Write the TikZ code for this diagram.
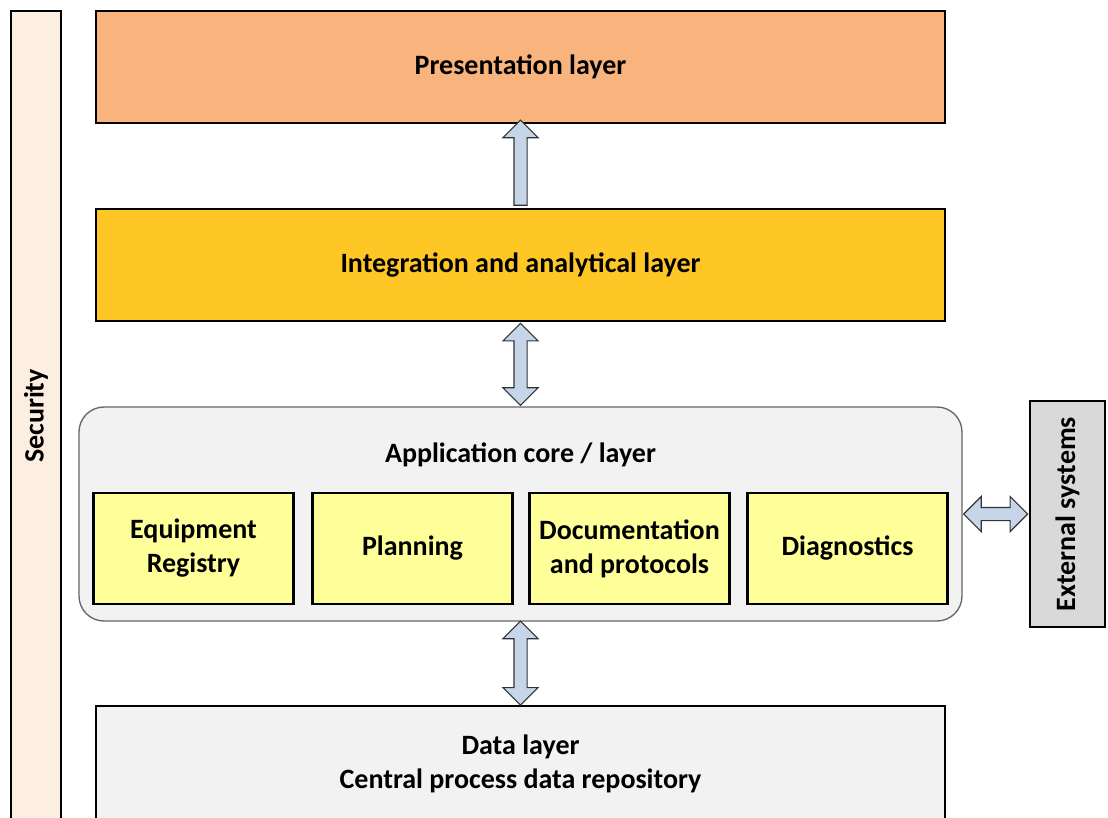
\documentclass[tikz,border=0pt]{standalone}
\usepackage{fontspec}
\setmainfont{Carlito}
\usetikzlibrary{shapes.arrows,calc}
\definecolor{secfill}{HTML}{FCEFE2}
\definecolor{presfill}{HTML}{F8B47C}
\definecolor{integfill}{HTML}{FEC725}
\definecolor{modfill}{HTML}{FFFF99}
\definecolor{greyfill}{HTML}{F2F2F2}
\definecolor{extfill}{HTML}{D9D9D9}
\definecolor{arrowfill}{HTML}{C6D6E8}
\tikzset{
  boxfont/.style={font=\bfseries\fontsize{21}{25.5}\selectfont},
  layerbox/.style={draw=black, line width=1.8pt, inner sep=0pt, align=center, boxfont},
  modbox/.style={layerbox, fill=modfill, minimum width=200*0.75pt, minimum height=111*0.75pt},
  uparrow/.style={single arrow, draw=black!80, fill=arrowfill, line width=0.8pt,
    inner xsep=0pt, inner ysep=6*0.75pt, single arrow head extend=11*0.75pt},
  twoarrow/.style={double arrow, draw=black!80, fill=arrowfill, line width=0.8pt,
    inner xsep=0pt, inner ysep=6*0.75pt, double arrow head extend=11*0.75pt}
}
\begin{document}
\begin{tikzpicture}[x=0.75pt,y=-0.75pt]
\useasboundingbox (0,0) rectangle (1108,818);
\clip (0,0) rectangle (1108,818);

% security bar on the left
\node[layerbox, fill=secfill, minimum width=50*0.75pt, minimum height=810*0.75pt] (sec) at (36,416) {};
\node[rotate=90, boxfont] (seclabel) at (36,416) {Security};

% layers
\node[layerbox, fill=presfill, minimum width=849*0.75pt, minimum height=112*0.75pt] (pres) at (520.5,67) {Presentation layer};
\node[layerbox, fill=integfill, minimum width=849*0.75pt, minimum height=112*0.75pt] (integ) at (520.5,265) {Integration and analytical layer};
\node[draw=black!60, line width=1pt, fill=greyfill, rounded corners=25*0.75pt,
  minimum width=883*0.75pt, minimum height=214*0.75pt] (core) at (520.5,514) {};
\node[boxfont] (corelabel) at (520.5,455) {Application core / layer};
\node[layerbox, fill=greyfill, minimum width=849*0.75pt, minimum height=116*0.75pt] (data) at (520.5,764)
  {Data layer\\Central process data repository};

% modules of the core
\foreach \name/\x/\txt in {reg/193.5/Equipment\\Registry, plan/412.5/Planning,
    doc/629.5/Documentation\\and protocols, diag/847.5/Diagnostics}
  \node[modbox] (\name) at (\x,548.5) {\txt};

% external systems
\node[layerbox, fill=extfill, minimum width=75*0.75pt, minimum height=226*0.75pt] (ext) at (1067.5,514) {};
\node[rotate=90, boxfont] (extlabel) at (1067.5,514) {External systems};

% block arrows between the layers
\node[uparrow, rotate=90, minimum height=85*0.75pt] (a1) at ($(integ.north)!.5!(pres.south)$) {};
\node[twoarrow, rotate=90, minimum height=82*0.75pt] (a2) at ($(integ.south)!.5!(core.north)$) {};
\node[twoarrow, rotate=90, minimum height=84*0.75pt] (a3) at ($(core.south)!.5!(data.north)$) {};
\node[twoarrow, minimum height=64*0.75pt] (a4) at ($(core.east)!.5!(ext.west)$) {};
\end{tikzpicture}
\end{document}
